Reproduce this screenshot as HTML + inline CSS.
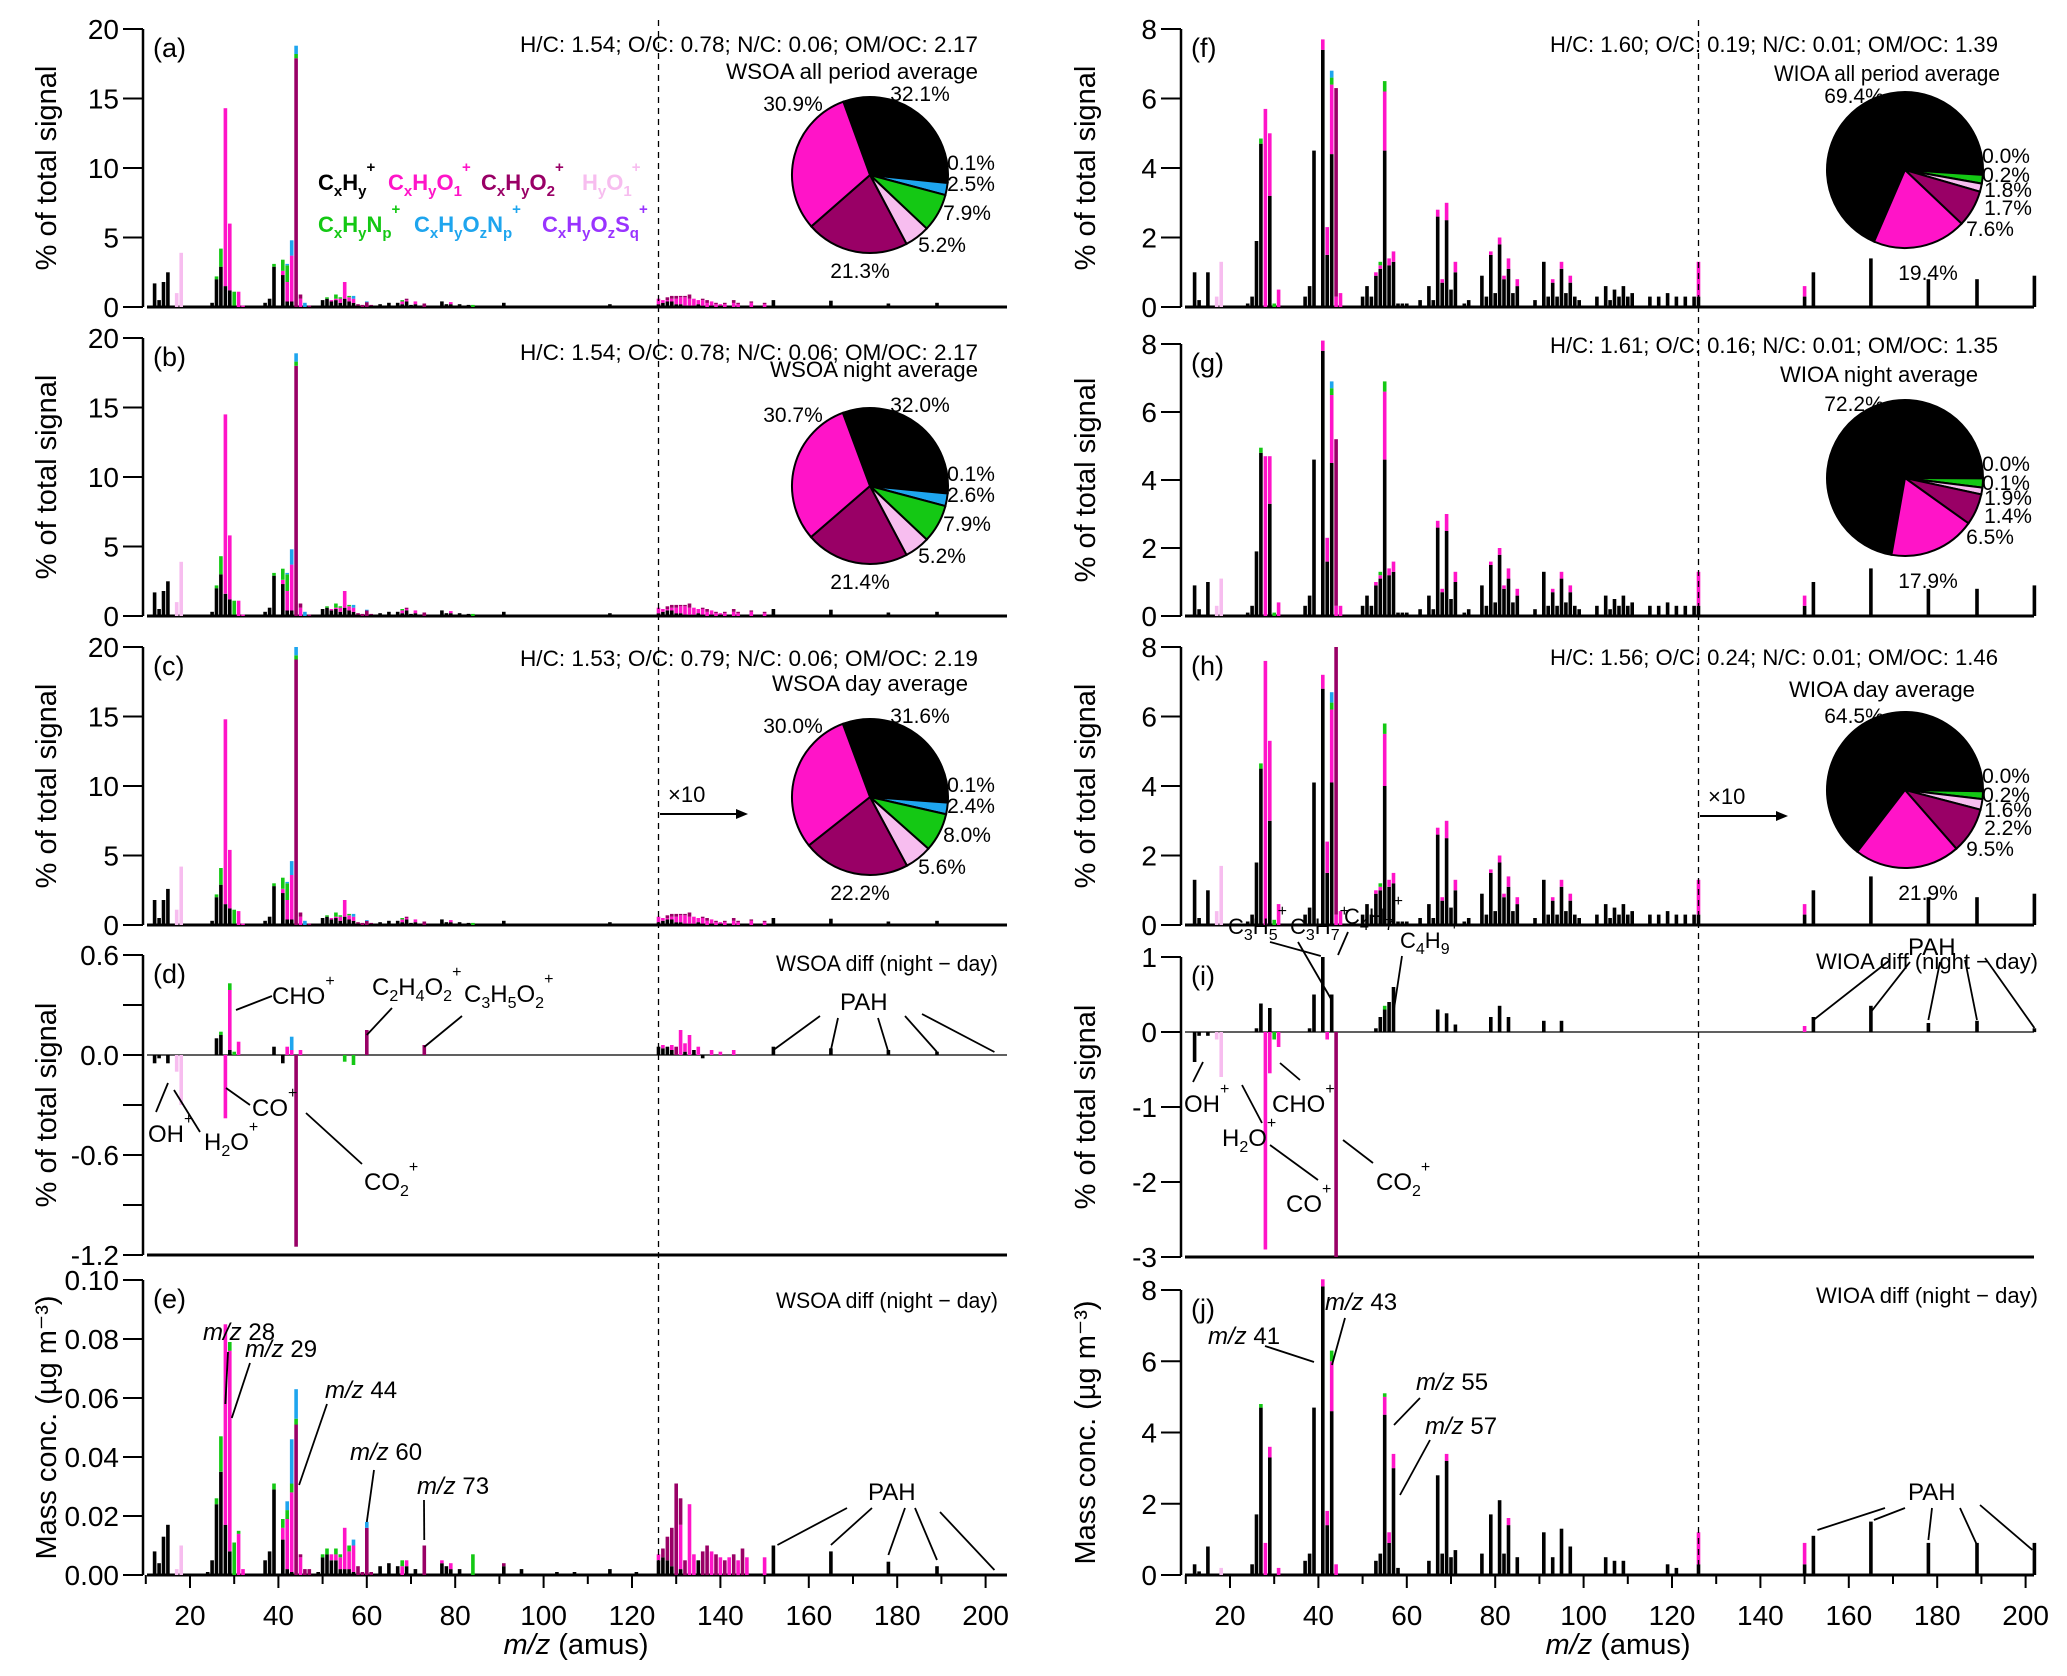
<!DOCTYPE html>
<html><head><meta charset="utf-8"><style>
html,body{margin:0;padding:0;background:#fff;}
svg{display:block;font-family:"Liberation Sans",Arial,sans-serif;}
</style></head><body>
<svg id="chart" width="2067" height="1676" viewBox="0 0 2067 1676" xmlns="http://www.w3.org/2000/svg"></svg>
<script>
// Rows: [m/z, CxHy, CxHyO1, CxHyO2, HyO1, CxHyNp, CxHyOzNp]
const tailWSOA = [[61,0.1,0,0.05],[62,0.1],[63,0.2],[64,0.1],[65,0.3],[66,0.1],[67,0.3],[68,0.2,0.2,0,0,0.1],[69,0.4,0.1,0.1],[70,0.15],[71,0.2,0.2],[73,0,0,0.25],[74,0.1],[75,0.1],[77,0.4],[78,0.2],[79,0.2,0.15],[80,0.1],[81,0.2],[82,0.1],[83,0.15],[84,0,0,0,0,0.15],[85,0.1],[91,0.3],[93,0.1],[95,0.1],[97,0.1],[105,0.1],[115,0.2],[119,0.1],[121,0.1],[125,0.1],
[126,0.2,0.4],[127,0.3,0.2],[128,0.4,0.1,0.2],[129,0.4,0.2,0.2],[130,0.2,0.4,0.2],[131,0.2,0.5,0.1],[132,0.1,0.6,0.1],[133,0.1,0.5,0.3],[134,0.1,0.5],[135,0.2,0.3],[136,0.1,0.4,0.1],[137,0,0.3,0.2],[138,0.1,0.3],[139,0,0.2,0.1],[140,0.1,0.1],[141,0,0.2,0.1],[143,0,0.3,0.2],[144,0,0.2,0.1],[147,0,0.3,0.1],[150,0,0.2,0.1],[152,0.5],[165,0.45],[178,0.25],[189,0.3],[202,0.1]];
const headA = [[12,1.7],[13,0.5],[14,1.8],[15,2.5],[17,0,0,0,1.0],[18,0,0,0,3.9],[24,0.05],[25,0.3],[26,2.0,0,0,0,0.2],[27,2.9,0,0,0,1.3],[28,1.5,12.8],[29,1.2,4.8],[30,0.1,0,0,0,1.0],[31,0,1.1],[32,0,0.1],[37,0.3],[38,0.6],[39,2.9,0,0,0,0.2],[41,2.3,0.3,0,0,0.8],[42,0.4,1.4,0,0,1.2,0.1],[43,0.4,3.3,0,0,0,1.1],[44,0,0,17.9,0,0.3,0.6],[45,0,0.6,0.3],[46,0,0,0,0,0,0.3],[47,0,0,0.1],[49,0.1],[50,0.5],[51,0.6,0,0,0,0.1],[52,0.4,0.1],[53,0.5,0.1,0,0,0.3],[54,0.3,0.3,0,0,0.1],[55,0.6,1.2],[56,0.4,0.3,0,0,0.1],[57,0.3,0.3,0,0,0,0.2],[58,0.1,0,0.1],[59,0,0,0.15],[60,0,0,0.35,0,0,0.05]];
const headB = [[12,1.7],[13,0.5],[14,1.8],[15,2.5],[17,0,0,0,1.0],[18,0,0,0,3.9],[24,0.05],[25,0.3],[26,2.0,0,0,0,0.2],[27,3.0,0,0,0,1.3],[28,1.6,12.9],[29,1.2,4.6],[30,0.1,0,0,0,1.0],[31,0,1.1],[32,0,0.1],[37,0.3],[38,0.6],[39,2.9,0,0,0,0.2],[41,2.3,0.3,0,0,0.8],[42,0.4,1.4,0,0,1.2,0.1],[43,0.4,3.3,0,0,0,1.1],[44,0,0,18.0,0,0.3,0.6],[45,0,0.6,0.3],[46,0,0,0,0,0,0.3],[47,0,0,0.1],[49,0.1],[50,0.5],[51,0.6,0,0,0,0.1],[52,0.4,0.1],[53,0.5,0.1,0,0,0.3],[54,0.3,0.3,0,0,0.1],[55,0.6,1.2],[56,0.4,0.3,0,0,0.1],[57,0.3,0.3,0,0,0,0.2],[58,0.1,0,0.1],[59,0,0,0.15],[60,0,0,0.4,0,0,0.05]];
const headC = [[12,1.8],[13,0.5],[14,1.8],[15,2.6],[17,0,0,0,1.1],[18,0,0,0,4.2],[24,0.05],[25,0.3],[26,2.0,0,0,0,0.2],[27,2.9,0,0,0,1.2],[28,1.5,13.3],[29,1.2,4.2],[30,0.1,0,0,0,1.0],[31,0,1.0],[32,0,0.1],[37,0.3],[38,0.6],[39,2.8,0,0,0,0.2],[41,2.3,0.3,0,0,0.8],[42,0.4,1.4,0,0,1.2,0.1],[43,0.4,3.2,0,0,0,1.0],[44,0,0,19.1,0,0.3,0.6],[45,0,0.6,0.3],[46,0,0,0,0,0,0.3],[47,0,0,0.1],[49,0.1],[50,0.5],[51,0.6,0,0,0,0.1],[52,0.4,0.1],[53,0.5,0.1,0,0,0.3],[54,0.3,0.3,0,0,0.1],[55,0.6,1.2],[56,0.4,0.3,0,0,0.1],[57,0.3,0.3,0,0,0,0.2],[58,0.1,0,0.1],[59,0,0,0.15],[60,0,0,0.3,0,0,0.05]];
const rowsD = [[12,-0.05],[13,-0.02],[15,-0.05],[17,0,0,0,-0.1],[18,0,0,0,-0.3],[26,0.1],[27,0.12,0,0,0,0.02],[28,0,-0.38],[29,0.03,0.36,0,0,0.04],[30,0,0,0,0,0.02],[31,0,0.08],[39,0.05],[41,-0.05],[42,0,0.05],[43,0,0.03,0,0,0,0.08],[44,0,0,-1.15],[45,0,0.03],[55,0,0,0,0,-0.04],[57,0,0,0,0,-0.06],[60,0,0,0.15],[73,0,0,0.06],[126,0.05],[127,0.04,0.02],[128,0.05],[129,0.03,0.03],[130,0,0,0.05],[131,0,0.15],[132,0.02,0.05],[133,0,0.12],[134,0.03],[135,0,0.05],[136,-0.02],[138,0,0.03],[140,0,0.02],[143,0,0.03],[152,0.05],[165,0.04],[178,0.03],[189,0.02]];
const rowsE = [[12,0.008],[13,0.004],[14,0.013],[15,0.017],[17,0,0,0,0.002],[18,0,0,0,0.010],[24,0.001],[25,0.005],[26,0.024,0,0,0,0.002],[27,0.035,0,0,0,0.012],[28,0.017,0.068],[29,0.008,0.068,0,0,0.003],[30,0,0,0,0,0.011],[31,0,0.014,0,0,0.001],[32,0,0.002],[37,0.005],[38,0.008],[39,0.029,0,0,0,0.002],[41,0.012,0.004,0,0,0.003],[42,0.002,0.017,0,0,0.003,0.003],[43,0.001,0.027,0,0,0.003,0.015],[44,0,0,0.051,0,0.002,0.010],[45,0,0.006,0.001],[46,0,0,0.002],[47,0,0,0.002],[49,0.001],[50,0.006,0,0,0,0.001],[51,0.007,0,0,0,0.002],[52,0.005,0.002],[53,0.005,0.002,0,0,0.002],[54,0.002,0.004,0,0,0.001],[55,0.002,0.014],[56,0.002,0.006,0,0,0.002],[57,0.001,0.009,0,0,0,0.002],[58,0,0,0.003],[59,0,0,0.001],[60,0,0,0.016,0,0,0.002],[61,0,0,0.001],[63,0.003],[65,0.004],[67,0.003],[68,0,0.003,0,0,0.002],[69,0.003,0.002],[71,0.002],[73,0,0,0.010],[77,0.004,0.001],[78,0.003],[79,0.002,0.002],[81,0.002],[84,0,0,0,0,0.007],[91,0.003,0,0.001],[95,0.002],[103,0.001],[107,0.001],[115,0.002],[121,0.001],
[126,0.005,0.002],[127,0.006,0,0.003],[128,0.005,0,0.008],[129,0.003,0,0.013],[130,0,0,0.031],[131,0.002,0.015,0.009],[132,0,0,0.005],[133,0,0.024],[134,0,0.007],[135,0.005],[136,0,0,0.008],[137,0,0,0.010],[138,0,0.008],[139,0,0,0.007],[140,0,0.006],[141,0,0,0.005],[142,0,0.006],[143,0,0,0.007],[144,0,0.005],[145,0,0,0.009],[146,0,0.006],[150,0,0.006],[152,0.010],[165,0.008],[178,0.0045],[189,0.003]];
const tailWIOA = [[58,0.1],[59,0.1],[60,0.1],[63,0.2],[65,0.6],[66,0.2],[67,2.6,0.2],[68,0.7,0.1],[69,2.5,0.5],[70,0.5],[71,1.0,0.3],[73,0.1],[74,0.2],[77,0.9],[78,0.3],[79,1.5,0.1],[80,0.4],[81,1.8,0.2],[82,0.8,0.1],[83,1.1,0.3],[84,0.4],[85,0.6,0.2],[89,0.2],[91,1.3],[92,0.3],[93,0.7,0.1],[94,0.3],[95,1.1,0.2],[96,0.4],[97,0.7,0.2],[98,0.3],[99,0.2],[103,0.3],[105,0.6],[106,0.2],[107,0.5],[108,0.3],[109,0.6],[110,0.3],[111,0.4],[115,0.3],[117,0.3],[119,0.4],[121,0.3],[123,0.3],[125,0.3],[126,0.3,1.0],[150,0.3,0.3],[152,1.0],[165,1.4],[178,0.8],[189,0.8],[202,0.9]];
const headF = [[12,1.0],[13,0.2],[15,1.0],[17,0,0,0,0.3],[18,0,0,0,1.3],[24,0.1],[25,0.3],[26,1.9],[27,4.7,0,0,0,0.15],[28,0,5.7],[29,3.2,1.8],[30,0,0,0,0,0.1],[31,0,0.5],[37,0.3],[38,0.6],[39,4.5],[41,7.4,0.3],[42,1.5,0.8],[43,4.4,2.0,0,0,0.2,0.2],[44,0,0.3,6.0],[45,0,0.4],[50,0.3],[51,0.6],[52,0.3],[53,0.9,0.1],[54,1.1,0.1,0,0,0.1],[55,4.5,1.7,0,0,0.3],[56,1.2,0.2],[57,1.3,0.3]];
const headG = [[12,0.9],[13,0.2],[15,1.0],[17,0,0,0,0.3],[18,0,0,0,1.1],[24,0.1],[25,0.3],[26,1.9],[27,4.8,0,0,0,0.15],[28,0,4.7],[29,3.3,1.4],[30,0,0,0,0,0.1],[31,0,0.4],[37,0.3],[38,0.6],[39,4.6],[41,7.8,0.3],[42,1.6,0.7],[43,4.5,2.0,0,0,0.2,0.2],[44,0,0.3,4.9],[45,0,0.3],[50,0.3],[51,0.6],[52,0.3],[53,0.9,0.1],[54,1.1,0.1,0,0,0.1],[55,4.6,2.0,0,0,0.3],[56,1.2,0.2],[57,1.3,0.3]];
const headH = [[12,1.3],[13,0.2],[15,1.0],[17,0,0,0,0.4],[18,0,0,0,1.7],[24,0.1],[25,0.3],[26,1.8],[27,4.5,0,0,0,0.15],[28,0,7.6],[29,3.0,2.3],[30,0,0,0,0,0.15],[31,0,0.6],[37,0.3],[38,0.5],[39,4.1],[41,6.8,0.4],[42,1.5,0.9],[43,4.1,2.1,0,0,0.2,0.3],[44,0,0.3,7.7],[45,0,0.4],[50,0.3],[51,0.6],[52,0.3],[53,0.9,0.1],[54,1.0,0.1,0,0,0.1],[55,4.0,1.5,0,0,0.3],[56,1.1,0.2],[57,1.2,0.3]];
const rowsI = [[12,-0.4],[13,-0.05],[15,-0.05],[17,0,0,0,-0.1],[18,0,0,0,-0.6],[26,0.05],[27,0.38],[28,0,-2.9],[29,0.32,-0.55],[30,0,0,0,0,-0.1],[31,0,-0.2],[38,0.05],[39,0.5],[41,1.0],[42,0,-0.1],[43,0.5],[44,0,0,-3.0],[53,0.05],[54,0.2],[55,0.3,0,0,0,0.05],[56,0.4],[57,0.6],[67,0.3],[69,0.25],[71,0.1],[79,0.2],[81,0.35],[83,0.2],[91,0.15],[95,0.15],[150,0,0.08],[152,0.2],[165,0.35],[178,0.12],[189,0.15],[202,0.05]];
const rowsJ = [[12,0.3],[13,0.1],[15,0.8],[18,0,0,0,0.2],[25,0.3],[26,1.7],[27,4.7,0,0,0,0.1],[28,0,0.9],[29,3.3,0.3],[31,0,0.2],[37,0.4],[38,0.6],[39,4.7],[41,8.1,0.2],[42,1.4,0.4],[43,4.6,1.4,0,0,0.3],[44,0,0.3],[53,0.4],[54,0.6],[55,4.5,0.5,0,0,0.1],[56,0.9,0.3],[57,3.0,0.4],[58,0.2],[65,0.4],[67,2.8],[68,0.6],[69,3.2,0.2],[70,0.5],[71,0.7],[77,0.6],[79,1.7],[81,2.1],[82,0.6],[83,1.4,0.2],[85,0.5],[91,1.2],[93,0.5],[95,1.3],[97,0.8],[105,0.5],[107,0.4],[109,0.4],[119,0.3],[121,0.2],[126,0.3,0.9],[150,0.3,0.6],[152,1.1],[165,1.5],[178,0.9],[189,0.9],[202,0.9]];
const pieA = [32.1,0.1,2.5,7.9,5.2,21.3,30.9];
const pieB = [32.0,0.1,2.6,7.9,5.2,21.4,30.7];
const pieC = [31.6,0.1,2.4,8.0,5.6,22.2,30.0];
const pieF = [69.4,0.0,0.2,1.8,1.7,7.6,19.4];
const pieG = [72.2,0.0,0.1,1.9,1.4,6.5,17.9];
const pieH = [64.5,0.0,0.2,1.6,2.2,9.5,21.9];
const leftTicks = [0,5,10,15,20];
const rightTicks = [0,2,4,6,8];
const dTicks = [-1.2,-0.9,-0.6,-0.3,0,0.3,0.6];
const dLabels = ["-1.2","","-0.6","","0.0","","0.6"];
const eTicks = [0,0.02,0.04,0.06,0.08,0.10];
const eLabels = ["0.00","0.02","0.04","0.06","0.08","0.10"];
const iTicks = [-3,-2,-1,0,1];
const xTickLabels = [20,40,60,80,100,120,140,160,180,200];

const COLORS = ["#000000","#ff14c8","#990066","#f7bdef","#14c814","#1ea5ee"];
const PIECOL = ["#000000","#9933ff","#1ea5ee","#14c814","#f7bdef","#990066","#ff14c8"];
const svg = document.getElementById('chart');
const NS = "http://www.w3.org/2000/svg";
function mk(tag, attrs, parent){const e=document.createElementNS(NS,tag);for(const k in attrs)e.setAttribute(k,attrs[k]);(parent||svg).appendChild(e);return e;}
function txt(s, attrs, parent){const e=mk('text',attrs,parent);e.textContent=s;return e;}

const XPX = 4.42;
function xScale(side){const o = side==='L'?190:1230;return m=>o+(m-20)*XPX;}
function yScale(y0,yTopPx,vTop){return v=>y0-v*(y0-yTopPx)/vTop;}

function drawBars(g, rows, xs, ys){
  rows.forEach(r=>{
    let pos=0, neg=0;
    for(let i=1;i<r.length;i++){
      const v=r[i]; if(!v) continue;
      let a,b;
      if(v>0){a=pos;b=pos+v;pos=b;} else {a=neg;b=neg+v;neg=b;}
      const y1=ys(Math.max(a,b)), y2=ys(Math.min(a,b));
      const rc=mk('rect',{x:(xs(r[0])-1.8).toFixed(1),y:y1.toFixed(1),width:3.6,height:Math.max(0.8,y2-y1).toFixed(1),fill:COLORS[i-1]},g);
      
      
    }
  });
}

function drawPanel(p){
  const g=mk('g',{});
  
  
  const xs=xScale(p.side), ys=yScale(p.y0,p.yTopPx,p.vTop);
  const spX = p.side==='L'?143:1181;
  const xEnd = p.side==='L'?1007:2034;
  const ax=mk('line',{x1:spX,y1:ys(p.ticks[p.ticks.length-1]),x2:spX,y2:ys(p.ticks[0]),stroke:'#000','stroke-width':2.5},g);
  
  
  p.ticks.forEach((t,i)=>{
    mk('line',{x1:spX-20,y1:ys(t),x2:spX,y2:ys(t),stroke:'#000','stroke-width':2},g);
    const lab=p.labels?p.labels[i]:String(t);
    if(lab){const tl=txt(lab,{x:spX-24,y:ys(t)+10,'text-anchor':'end','font-size':28,fill:'#000'},g);
      
      }
  });
  const yb = ys(p.ticks[0]);
  mk('line',{x1:spX+4,y1:yb,x2:xEnd,y2:yb,stroke:'#000','stroke-width':3},g);
  if(p.ticks[0]<0){mk('line',{x1:spX+4,y1:ys(0),x2:xEnd,y2:ys(0),stroke:'#000','stroke-width':1.2},g);}
  drawBars(g,p.rows,xs,ys);
  if(p.xticks){
    for(let m=10;m<=200;m+=10){
      const big=m%20===0;
      mk('line',{x1:xs(m),y1:yb,x2:xs(m),y2:yb+(big?13:9),stroke:'#000','stroke-width':2},g);
    }
    xTickLabels.forEach(m=>{const tl=txt(String(m),{x:xs(m),y:yb+50,'text-anchor':'middle','font-size':28},g);
      
      });
  }
  const pl=txt('('+p.id+')',{x:spX+10,y:ys(p.ticks[p.ticks.length-1])+28,'font-size':27},g);
  
  
  const yc=(ys(p.ticks[0])+ys(p.ticks[p.ticks.length-1]))/2;
  const tx = p.side==='L'?56:1095;
  const yt=txt(p.ytitle,{x:tx,y:yc,'text-anchor':'middle','font-size':29,transform:`rotate(-90 ${tx} ${yc})`},g);
  
  
  return {xs,ys};
}

function drawPie(cx,cy,r,vals,offs,startDeg,name){
  const g=mk('g',{});
  
  
  let a=startDeg;
  vals.forEach((v,i)=>{
    const sweep=v/100*360; if(sweep<=0){return;}
    const a0=(a-90)*Math.PI/180, a1=(a+sweep-90)*Math.PI/180;
    const large=sweep>180?1:0;
    const d=`M${cx},${cy} L${cx+r*Math.cos(a0)},${cy+r*Math.sin(a0)} A${r},${r} 0 ${large} 1 ${cx+r*Math.cos(a1)},${cy+r*Math.sin(a1)} Z`;
    const s=mk('path',{d:d,fill:PIECOL[i],stroke:'#000','stroke-width':2},g);
    
    
    a+=sweep;
  });
  vals.forEach((v,i)=>{
    const t=txt(v.toFixed(1)+'%',{x:cx+offs[i][0],y:cy+offs[i][1]+7,'text-anchor':'middle','font-size':21},g);
    
    
  });
}

const Lt = {side:'L',ticks:leftTicks,ytitle:'% of total signal'};
const Rt = {side:'R',ticks:rightTicks,ytitle:'% of total signal'};
drawPanel(Object.assign({id:'a',y0:307,yTopPx:29,vTop:20,rows:headA.concat(tailWSOA)},Lt));
drawPanel(Object.assign({id:'b',y0:616,yTopPx:338,vTop:20,rows:headB.concat(tailWSOA)},Lt));
drawPanel(Object.assign({id:'c',y0:925,yTopPx:647,vTop:20,rows:headC.concat(tailWSOA)},Lt));
drawPanel({id:'d',side:'L',y0:1055,yTopPx:955,vTop:0.6,ticks:dTicks,labels:dLabels,rows:rowsD,ytitle:'% of total signal'});
drawPanel({id:'e',side:'L',y0:1575,yTopPx:1280,vTop:0.10,ticks:eTicks,labels:eLabels,rows:rowsE,xticks:true,ytitle:'Mass conc. (\u00b5g m\u207b\u00b3)'});
drawPanel(Object.assign({id:'f',y0:307,yTopPx:29,vTop:8,rows:headF.concat(tailWIOA)},Rt));
drawPanel(Object.assign({id:'g',y0:616,yTopPx:344,vTop:8,rows:headG.concat(tailWIOA)},Rt));
drawPanel(Object.assign({id:'h',y0:925,yTopPx:647,vTop:8,rows:headH.concat(tailWIOA)},Rt));
drawPanel({id:'i',side:'R',y0:1032,yTopPx:957,vTop:1,ticks:iTicks,rows:rowsI,ytitle:'% of total signal'});
drawPanel({id:'j',side:'R',y0:1575,yTopPx:1290,vTop:8,ticks:rightTicks,rows:rowsJ,xticks:true,ytitle:'Mass conc. (\u00b5g m\u207b\u00b3)'});

[658.5,1698.5].forEach(x=>{const l=mk('line',{x1:x,y1:20,x2:x,y2:1575,stroke:'#000','stroke-width':1.3,'stroke-dasharray':'6,5'});
  
  });

function header(s,xR,y,w,name){const t=txt(s,{x:xR-w,y:y+8,'font-size':22,textLength:w,lengthAdjust:'spacingAndGlyphs'});
  
  }
header('H/C: 1.54; O/C: 0.78; N/C: 0.06; OM/OC: 2.17',978,44,458,'elemental-ratios-a');
header('WSOA all period average',978,71,252,'title-a');
header('H/C: 1.54; O/C: 0.78; N/C: 0.06; OM/OC: 2.17',978,352,458,'elemental-ratios-b');
header('WSOA night average',978,369,208,'title-b');
header('H/C: 1.53; O/C: 0.79; N/C: 0.06; OM/OC: 2.19',978,658,458,'elemental-ratios-c');
header('WSOA day average',968,683,196,'title-c');
header('H/C: 1.60; O/C: 0.19; N/C: 0.01; OM/OC: 1.39',1998,44,448,'elemental-ratios-f');
header('WIOA all period average',2000,73,226,'title-f');
header('H/C: 1.61; O/C: 0.16; N/C: 0.01; OM/OC: 1.35',1998,345,448,'elemental-ratios-g');
header('WIOA night average',1978,374,198,'title-g');
header('H/C: 1.56; O/C: 0.24; N/C: 0.01; OM/OC: 1.46',1998,657,448,'elemental-ratios-h');
header('WIOA day average',1975,689,186,'title-h');
header('WSOA diff (night \u2212 day)',998,963,222,'title-d');
header('WSOA diff (night \u2212 day)',998,1300,222,'title-e');
header('WIOA diff (night \u2212 day)',2038,961,222,'title-i');
header('WIOA diff (night \u2212 day)',2038,1295,222,'title-j');

const offL=[[50,-81],[101,-12],[101,9],[97,38],[72,70],[-10,96],[-77,-71]];
const offR=[[-51,-74],[101,-14],[101,5],[103,20],[103,38],[85,59],[23,103]];
drawPie(870,175,78,pieA,offL,-20,'pie-a');
drawPie(870,486,78,pieB,offL,-20,'pie-b');
drawPie(870,797,78,pieC,offL,-20,'pie-c');
drawPie(1905,170,78,pieF,offR,-157,'pie-f');
drawPie(1905,478,78,pieG,offR,-170,'pie-g');
drawPie(1905,790,78,pieH,offR,-142,'pie-h');

function fmt(t,parts,subSize){
  let state=0;
  parts.forEach(([s,k])=>{
    const attrs={};
    if(k==='sub'){attrs.dy= state===1?0:(state===2?24:6);attrs['font-size']=subSize;state=1;}
    else if(k==='sup'){attrs.dy= state===2?0:(state===1?-24:-18);attrs['font-size']=subSize;state=2;}
    else { if(state===1)attrs.dy=-6; else if(state===2)attrs.dy=18; state=0; if(k==='i')attrs['font-style']='italic'; }
    const ts=mk('tspan',attrs,t);ts.textContent=s;
  });
}

const leg=mk('g',{'font-size':22,'font-weight':'bold'});


function legItem(x,y,col,parts,name){
  const t=mk('text',{x:x,y:y,fill:col},leg);
  
  
  fmt(t,parts,15);
}
legItem(318,190,'#000',[['C'],['x','sub'],['H'],['y','sub'],['+','sup']],'legend-cxhy');
legItem(388,190,'#ff14c8',[['C'],['x','sub'],['H'],['y','sub'],['O'],['1','sub'],['+','sup']],'legend-cxhyo1');
legItem(481,190,'#990066',[['C'],['x','sub'],['H'],['y','sub'],['O'],['2','sub'],['+','sup']],'legend-cxhyo2');
legItem(582,190,'#f7bdef',[['H'],['y','sub'],['O'],['1','sub'],['+','sup']],'legend-hyo1');
legItem(318,232,'#14c814',[['C'],['x','sub'],['H'],['y','sub'],['N'],['p','sub'],['+','sup']],'legend-cxhynp');
legItem(414,232,'#1ea5ee',[['C'],['x','sub'],['H'],['y','sub'],['O'],['z','sub'],['N'],['p','sub'],['+','sup']],'legend-cxhyoznp');
legItem(542,232,'#9933ff',[['C'],['x','sub'],['H'],['y','sub'],['O'],['z','sub'],['S'],['q','sub'],['+','sup']],'legend-cxhyozsq');

function x10(x0,y,name){
  const g=mk('g',{});
  
  
  mk('line',{x1:x0,y1:y,x2:x0+80,y2:y,stroke:'#000','stroke-width':2},g);
  mk('path',{d:`M${x0+88},${y} l-12,-5 l0,10 z`,fill:'#000'},g);
  txt('\u00d710',{x:x0+8,y:y-12,'font-size':22},g);
}
x10(660,814,'x10-arrow-c');
x10(1700,816,'x10-arrow-h');

function ann(s,x,y,lines,name,fs){
  const g=mk('g',{});
  
  
  const t=mk('text',{x:x,y:y,'font-size':fs||24},g);
  fmt(t,s,16);
  lines.forEach(l=>mk('line',{x1:l[0],y1:l[1],x2:l[2],y2:l[3],stroke:'#000','stroke-width':1.8},g));
}
const xL=xScale('L'), xR=xScale('R');
ann([['CHO'],['+','sup']],272,1004,[[236,1010,272,996]],'label-cho');
ann([['C'],['2','sub'],['H'],['4','sub'],['O'],['2','sub'],['+','sup']],372,995,[[xL(60),1035,392,1008]],'label-c2h4o2');
ann([['C'],['3','sub'],['H'],['5','sub'],['O'],['2','sub'],['+','sup']],464,1002,[[xL(73),1047,462,1016]],'label-c3h5o2');
ann([['PAH']],840,1010,[[820,1016,xL(152),1050],[838,1018,xL(165),1050],[878,1018,xL(178),1052],[905,1016,xL(189),1052],[922,1014,xL(202),1052]],'label-pah-d');
ann([['OH'],['+','sup']],148,1142,[[156,1112,168,1083]],'label-oh');
ann([['H'],['2','sub'],['O'],['+','sup']],204,1150,[[200,1132,174,1090]],'label-h2o');
ann([['CO'],['+','sup']],252,1116,[[250,1105,226,1088]],'label-co');
ann([['CO'],['2','sub'],['+','sup']],364,1190,[[362,1164,306,1113]],'label-co2');
ann([['m/z','i'],[' 28']],203,1340,[[228,1352,xL(28),1404]],'label-mz28');
ann([['m/z','i'],[' 29']],245,1357,[[250,1363,xL(29)+2,1418]],'label-mz29');
ann([['m/z','i'],[' 44']],325,1398,[[327,1404,xL(44)+3,1485]],'label-mz44');
ann([['m/z','i'],[' 60']],350,1460,[[374,1470,xL(60),1522]],'label-mz60');
ann([['m/z','i'],[' 73']],417,1494,[[424,1500,xL(73),1540]],'label-mz73');
ann([['PAH']],868,1500,[[847,1508,xL(152)+4,1545],[872,1508,xL(165),1545],[905,1508,xL(178),1555],[915,1508,xL(189),1560],[940,1512,xL(202),1570]],'label-pah-e');
ann([['C'],['3','sub'],['H'],['5','sub'],['+','sup']],1228,934,[[1270,942,xR(41)-2,956]],'label-c3h5',22);
ann([['C'],['3','sub'],['H'],['7','sub'],['+','sup']],1290,934,[[1298,942,xR(43),1000]],'label-c3h7',22);
ann([['C'],['4','sub'],['H'],['7','sub'],['+','sup']],1344,924,[[1348,932,1338,955]],'label-c4h7',22);
ann([['C'],['4','sub'],['H'],['9','sub'],['+','sup']],1400,948,[[1402,956,xR(57),1012]],'label-c4h9',22);
ann([['PAH']],1908,955,[[1890,960,xR(152),1020],[1910,962,xR(165),1012],[1940,962,xR(178),1020],[1965,960,xR(189),1020],[1985,958,xR(202),1028]],'label-pah-i');
ann([['OH'],['+','sup']],1184,1112,[[1193,1082,1203,1062]],'label-oh-i');
ann([['H'],['2','sub'],['O'],['+','sup']],1222,1146,[[1262,1123,1242,1085]],'label-h2o-i');
ann([['CHO'],['+','sup']],1272,1112,[[1300,1080,1280,1063]],'label-cho-i');
ann([['CO'],['+','sup']],1286,1212,[[1318,1180,1270,1145]],'label-co-i');
ann([['CO'],['2','sub'],['+','sup']],1376,1190,[[1373,1163,1343,1140]],'label-co2-i');
ann([['m/z','i'],[' 41']],1208,1344,[[1265,1346,1314,1362]],'label-mz41');
ann([['m/z','i'],[' 43']],1325,1310,[[1345,1318,1332,1365]],'label-mz43');
ann([['m/z','i'],[' 55']],1416,1390,[[1420,1398,1394,1425]],'label-mz55');
ann([['m/z','i'],[' 57']],1425,1434,[[1430,1440,1400,1495]],'label-mz57');
ann([['PAH']],1908,1500,[[1885,1508,xR(152)+4,1530],[1905,1508,xR(165)+3,1520],[1932,1508,xR(178),1540],[1960,1508,xR(189),1545],[1980,1505,xR(202)-2,1550]],'label-pah-j');

[[576,'L'],[1618,'R']].forEach(([x,s])=>{
  const t=mk('text',{x:x,y:1654,'text-anchor':'middle','font-size':29});
  
  
  const a=mk('tspan',{'font-style':'italic'},t);a.textContent='m/z';
  const b=mk('tspan',{},t);b.textContent=' (amus)';
});
</script>
</body></html>
